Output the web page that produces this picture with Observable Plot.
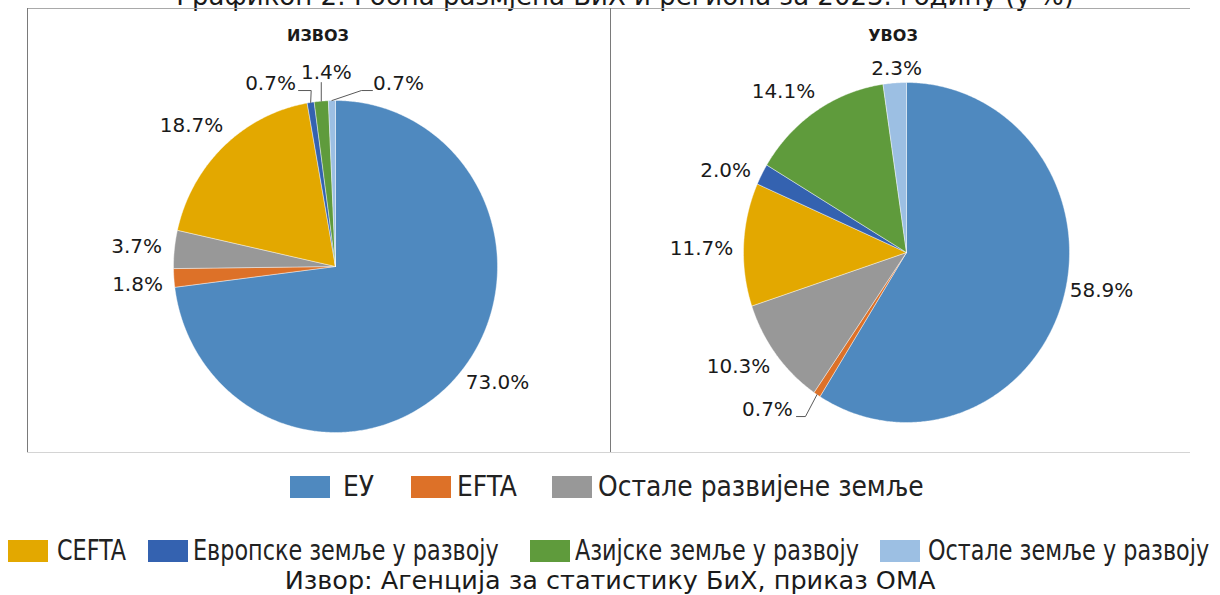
<!DOCTYPE html>
<html><head><meta charset="utf-8">
<script src="https://cdn.jsdelivr.net/npm/d3@7"></script>
<script src="https://cdn.jsdelivr.net/npm/@observablehq/plot@0.6"></script>
<style>
html,body{margin:0;padding:0;background:#fff;}
#wrap{position:relative;width:1220px;height:595px;overflow:hidden;font-family:"DejaVu Sans",sans-serif;color:#1a1a1a;}
.abs{position:absolute;}
#title{left:0;width:1250px;text-align:center;top:-17px;font-size:26px;line-height:26px;white-space:nowrap;}
.hline{position:absolute;height:0;border-top:1px solid #a9a9a9;}
.vline{position:absolute;width:0;border-left:1px solid #7a7a7a;}
.ptitle{position:absolute;font-weight:bold;font-size:16px;transform:translateX(-50%);top:26px;}
.panel{position:absolute;top:8px;}
.sw{position:absolute;width:40px;height:22px;}
.lt{position:absolute;font-family:"Liberation Sans Narrow","DejaVu Sans Condensed",sans-serif;white-space:nowrap;color:#222;transform-origin:left center;}
#source{position:absolute;left:0;width:1220px;text-align:center;top:567px;font-size:25.5px;line-height:26px;white-space:nowrap;}
</style></head>
<body><div id="wrap"></div>
<script>
// ---- data ----
const title = "Графикон 2: Робна размјена БиХ и региона за 2023. годину (у %)";
const chartTitles = ["ИЗВОЗ", "УВОЗ"];
const categories = ["ЕУ", "EFTA", "Остале развијене земље", "CEFTA", "Европске земље у развоју", "Азијске земље у развоју", "Остале земље у развоју"];
const exportValues = [73.0, 1.8, 3.7, 18.7, 0.7, 1.4, 0.7];
const importValues = [58.9, 0.7, 10.3, 11.7, 2.0, 14.1, 2.3];
const colors = ["#4f89bf", "#dd7128", "#989898", "#e3a800", "#3462b0", "#5f9b3c", "#9cbfe3"];
const source = "Извор: Агенција за статистику БиХ, приказ ОМА";

// ---- layout (label anchors in pie-radius units, y up) ----
const exportLabelAt = [[1.0, -0.699], [-1.222, -0.108], [-1.228, 0.120], [-0.889, 0.849], [-0.401, 1.102], [-0.056, 1.169], [0.389, 1.102]];
const importLabelAt = [[1.196, -0.224], [-0.853, -0.924], [-1.031, -0.671], [-1.258, 0.024], [-1.110, 0.482], [-0.755, 0.947], [-0.061, 1.082]];
const exportLeaders = [
  {slice: 4, via: [[-0.228, 1.060], [-0.150, 1.060]]},
  {slice: 5, via: [[null, 1.108]]},
  {slice: 6, via: [[0.228, 1.060], [0.160, 1.060]]}
];
const importLeaders = [
  {slice: 1, via: [[-0.675, -0.965], [-0.620, -0.965]]}
];

const wrap = document.getElementById("wrap");
function el(cls, style, text) {
  const d = document.createElement("div");
  d.className = cls;
  Object.assign(d.style, style);
  if (text != null) d.textContent = text;
  wrap.appendChild(d);
  return d;
}
el("abs", {}, title).id = "title";

// frame lines
el("hline", {left: "27px", top: "8px", width: "1163px"});
el("hline", {left: "27px", top: "452px", width: "1163px", borderTopColor: "#d4d4d4"});
el("vline", {left: "27px", top: "8px", height: "444px"});
el("vline", {left: "610px", top: "8px", height: "444px"});

function pieChart(values, labelAt, leaders, opts) {
  const total = d3.sum(values);
  let acc = 0;
  const slices = values.map((v, i) => {
    const a0 = acc / total * 2 * Math.PI;
    acc += v;
    const a1 = acc / total * 2 * Math.PI;
    return {i, cat: categories[i], v, a0, a1, mid: (a0 + a1) / 2};
  });
  const pts = [];
  for (const s of slices) {
    pts.push({cat: s.cat, x: 0, y: 0});
    const n = Math.max(2, Math.ceil((s.a1 - s.a0) / (Math.PI / 360)));
    for (let k = 0; k <= n; k++) {
      const a = s.a0 + (s.a1 - s.a0) * k / n;
      pts.push({cat: s.cat, x: Math.sin(a), y: Math.cos(a)});
    }
    pts.push({cat: s.cat, x: 0, y: 0});
  }
  const labels = slices.map(s => ({
    x: labelAt[s.i][0], y: labelAt[s.i][1],
    text: s.v.toFixed(1) + "%"
  }));
  const leaderPts = [];
  leaders.forEach((L, j) => {
    const s = slices[L.slice];
    const ex = Math.sin(s.mid), ey = Math.cos(s.mid);
    for (const [x, y] of L.via) leaderPts.push({id: j, x: x == null ? ex : x, y});
    leaderPts.push({id: j, x: ex, y: ey});
  });
  return Plot.plot({
    width: opts.width, height: opts.height,
    marginLeft: opts.ml, marginRight: opts.mr, marginTop: opts.mt, marginBottom: opts.mb,
    x: {domain: [-1, 1], axis: null},
    y: {domain: [-1, 1], axis: null},
    color: {domain: categories, range: colors},
    style: {background: "transparent", overflow: "visible"},
    marks: [
      Plot.line(pts, {x: "x", y: "y", z: "cat", fill: "cat", stroke: "#ffffff", strokeWidth: 0.6, strokeOpacity: 0.7, curve: "linear"}),
      Plot.line(leaderPts, {x: "x", y: "y", z: "id", stroke: "#595959", strokeWidth: 1, curve: "linear"}),
      Plot.text(labels, {x: "x", y: "y", text: "text", fontSize: 20, fontFamily: "DejaVu Sans", fill: "#1a1a1a", textAnchor: "middle", lineAnchor: "middle"})
    ]
  });
}

const left = pieChart(exportValues, exportLabelAt, exportLeaders, {width: 583, height: 444, ml: 146, mr: 113, mt: 92, mb: 20});
const lp = el("panel", {left: "27px"}); lp.appendChild(left);
const right = pieChart(importValues, importLabelAt, importLeaders, {width: 580, height: 444, ml: 133, mr: 121, mt: 74, mb: 30});
const rp = el("panel", {left: "610px"}); rp.appendChild(right);

el("ptitle", {left: "318px"}, chartTitles[0]);
el("ptitle", {left: "893px"}, chartTitles[1]);

// legend (two rows)
const legendRows = [[0, 1, 2], [3, 4, 5, 6]];
const legendSwatchLeft = [290, 411, 552, 8, 148, 530, 880];
const legendTextLeft = [343, 457, 598, 57, 193, 575, 928];
const legendRowTop = [476, 540];
const legendFont = [27.8, 24.8];
const legendStretch = [1.0, 1.12];
legendRows.forEach((row, r) => {
  row.forEach(i => {
    el("sw", {left: legendSwatchLeft[i] + "px", top: legendRowTop[r] + "px", background: colors[i]});
    el("lt", {left: legendTextLeft[i] + "px", top: (legendRowTop[r] - 2) + "px", fontSize: legendFont[r] + "px", lineHeight: "26px", transform: `scaleY(${legendStretch[r]})`}, categories[i]);
  });
});
el("abs", {}, source).id = "source";
</script>
</body></html>
